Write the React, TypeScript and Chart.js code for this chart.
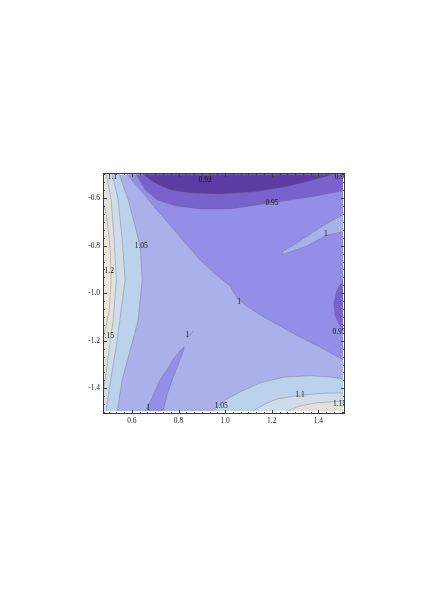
import React, { useEffect, useRef } from "react";
import { Chart, registerables } from "chart.js";

Chart.register(...registerables);

type P = [number, number];

// axis / domain
const X_RANGE: P = [0.476, 1.514];
const Y_RANGE: P = [-1.508, -0.494];
const DOMAIN_X: P = [0.48, 1.505];
const DOMAIN_Y: P = [-1.495, -0.5];
const X_TICKS = [0.6, 0.8, 1.0, 1.2, 1.4];
const Y_TICKS = [-1.4, -1.2, -1.0, -0.8, -0.6];

// contour lines (data coordinates)
const line090: P[] = [[0.648, -0.5], [0.7, -0.536], [0.764, -0.565], [0.85, -0.578], [0.978, -0.582], [1.128, -0.573], [1.257, -0.552], [1.364, -0.527], [1.463, -0.5]];
const line095Top: P[] = [[0.618, -0.5], [0.657, -0.565], [0.708, -0.607], [0.785, -0.632], [0.893, -0.645], [1.021, -0.645], [1.192, -0.62], [1.364, -0.595], [1.505, -0.569]];
const line095Right: P[] = [[1.505, -0.944], [1.48, -0.986], [1.466, -1.041], [1.471, -1.091], [1.488, -1.129], [1.505, -1.15]];
const line100Main: P[] = [[0.58, -0.5], [0.636, -0.565], [0.7, -0.641], [0.764, -0.713], [0.829, -0.789], [0.893, -0.86], [0.957, -0.919], [1.021, -0.969], [1.051, -1.02], [1.086, -1.049], [1.15, -1.091], [1.235, -1.138], [1.321, -1.184], [1.406, -1.226], [1.505, -1.28]];
const line100Spur: P[] = [[1.505, -0.742], [1.437, -0.755], [1.351, -0.801], [1.278, -0.826], [1.248, -0.835], [1.244, -0.826], [1.3, -0.793], [1.364, -0.751], [1.437, -0.705], [1.505, -0.67]];
const line100Sliver: P[] = [[0.657, -1.495], [0.687, -1.44], [0.721, -1.364], [0.756, -1.314], [0.781, -1.272], [0.807, -1.242], [0.824, -1.225], [0.82, -1.246], [0.803, -1.288], [0.773, -1.364], [0.751, -1.427], [0.734, -1.495]];
const line100Tick: P[] = [[0.843, -1.185], [0.862, -1.158]];
const line105Left: P[] = [[0.546, -0.5], [0.584, -0.607], [0.618, -0.733], [0.636, -0.809], [0.644, -0.944], [0.627, -1.112], [0.593, -1.238], [0.558, -1.364], [0.537, -1.495]];
const line110Left: P[] = [[0.516, -0.5], [0.541, -0.607], [0.558, -0.775], [0.571, -0.944], [0.554, -1.07], [0.537, -1.196], [0.516, -1.322], [0.499, -1.427], [0.49, -1.495]];
const line115Left: P[] = [[0.49, -0.5], [0.511, -0.607], [0.524, -0.775], [0.533, -0.944], [0.52, -1.112], [0.507, -1.196], [0.494, -1.301], [0.48, -1.398]];
const line120Left: P[] = [[0.48, -0.628], [0.494, -0.691], [0.507, -0.818], [0.511, -0.944], [0.503, -1.07], [0.49, -1.133], [0.48, -1.175]];
const line105BR: P[] = [[0.949, -1.495], [1.0, -1.449], [1.064, -1.415], [1.149, -1.377], [1.256, -1.352], [1.364, -1.347], [1.449, -1.352], [1.505, -1.36]];
const line110BR: P[] = [[1.12, -1.495], [1.171, -1.466], [1.222, -1.445], [1.329, -1.428], [1.428, -1.42], [1.505, -1.42]];
const line115BR: P[] = [[1.266, -1.495], [1.321, -1.474], [1.385, -1.462], [1.505, -1.453]];

// contour labels
const LABEL_TEXT = ["0.92", "0.9", "0.95", "1", "1.1", "1.05", "1.2", "1.15", "1", "1", "1.05", "1.1", "1.15", "0.95", "1"];
const LABEL_X = [0.914, 1.49, 1.201, 1.432, 0.516, 0.64, 0.503, 0.495, 0.838, 0.67, 0.983, 1.321, 1.491, 1.488, 1.06];
const LABEL_Y = [-0.523, -0.51, -0.62, -0.751, -0.51, -0.801, -0.906, -1.179, -1.176, -1.482, -1.474, -1.428, -1.466, -1.162, -1.036];

// band colours (low -> high)
const COL_A = "rgb(92,60,162)";
const COL_B = "rgb(122,98,204)";
const COL_C = "rgb(148,143,230)";
const COL_D = "rgb(170,177,234)";
const COL_E = "rgb(188,209,236)";
const COL_F = "rgb(208,221,232)";
const COL_G = "rgb(226,226,221)";
const COL_H = "rgb(236,232,220)";
const LINE_COL = "rgba(90,90,120,0.55)";

const FONT = "'Liberation Serif', 'Times New Roman', serif";

const [XL, XR] = DOMAIN_X;
const [YB, YT] = DOMAIN_Y;

const regions: { pts: P[]; color: string }[] = [
  { pts: [[XL, YT], [XR, YT], [XR, YB], [XL, YB]], color: COL_D },
  { pts: [...line100Main, [XR, YT]], color: COL_C },
  { pts: line100Spur, color: COL_D },
  { pts: [...line095Top, [XR, YT]], color: COL_B },
  { pts: line090, color: COL_A },
  { pts: line095Right, color: COL_B },
  { pts: line100Sliver, color: COL_C },
  { pts: [[XL, YT], ...line105Left, [XL, YB]], color: COL_E },
  { pts: [[XL, YT], ...line110Left, [XL, YB]], color: COL_F },
  { pts: [[XL, YT], ...line115Left], color: COL_G },
  { pts: line120Left, color: COL_H },
  { pts: [...line105BR, [XR, YB]], color: COL_E },
  { pts: [...line110BR, [XR, YB]], color: COL_F },
  { pts: [...line115BR, [XR, YB]], color: COL_G },
];

const contourLines: P[][] = [
  line090, line095Top, line095Right, line100Main, line100Spur, line100Sliver, line100Tick,
  line105Left, line110Left, line115Left, line120Left, line105BR, line110BR, line115BR,
];

const toPts = (arr: P[]) => arr.map(([x, y]) => ({ x, y }));

const framePlugin = {
  id: "mmaFrame",
  afterDraw(chart: any) {
    const { ctx, chartArea: a, scales } = chart;
    const xs = scales.x;
    const ys = scales.y;
    ctx.save();
    // contour labels
    ctx.save();
    ctx.beginPath();
    ctx.rect(a.left + 1, a.top + 1, a.right - a.left - 2, a.bottom - a.top - 2);
    ctx.clip();
    ctx.font = `7.5px ${FONT}`;
    ctx.fillStyle = "#111";
    ctx.textAlign = "center";
    ctx.textBaseline = "middle";
    LABEL_TEXT.forEach((t, i) => {
      ctx.fillText(t, xs.getPixelForValue(LABEL_X[i]), ys.getPixelForValue(LABEL_Y[i]));
    });
    ctx.restore();

    // frame
    ctx.strokeStyle = "#3c3c3c";
    ctx.lineWidth = 1;
    ctx.strokeRect(a.left + 0.5, a.top + 0.5, a.right - a.left - 1, a.bottom - a.top - 1);

    // inward ticks
    const step = 0.2 / 6;
    const drawTicks = (scale: any, horizontal: boolean) => {
      const lo = Math.ceil(scale.min / step - 1e-6);
      const hi = Math.floor(scale.max / step + 1e-6);
      for (let k = lo; k <= hi; k++) {
        const v = k * step;
        const r = v / 0.2;
        const major = Math.abs(r - Math.round(r)) < 1e-6;
        const len = major ? 4 : 2;
        const p = Math.round(scale.getPixelForValue(v)) + 0.5;
        ctx.beginPath();
        if (horizontal) {
          ctx.moveTo(p, a.bottom);
          ctx.lineTo(p, a.bottom - len);
          ctx.moveTo(p, a.top);
          ctx.lineTo(p, a.top + len);
        } else {
          ctx.moveTo(a.left, p);
          ctx.lineTo(a.left + len, p);
          ctx.moveTo(a.right, p);
          ctx.lineTo(a.right - len, p);
        }
        ctx.stroke();
      }
    };
    drawTicks(xs, true);
    drawTicks(ys, false);
    ctx.restore();
  },
};

export default function App() {
  const ref = useRef<HTMLCanvasElement | null>(null);

  useEffect(() => {
    if (!ref.current) return;
    const datasets: any[] = regions.map((r, i) => ({
      data: toPts(r.pts),
      showLine: true,
      fill: "shape",
      backgroundColor: r.color,
      borderColor: "rgba(0,0,0,0)",
      borderWidth: 0,
      pointRadius: 0,
      tension: 0,
      order: 1000 - i,
    }));
    contourLines.forEach((l) => {
      datasets.push({
        data: toPts(l),
        showLine: true,
        fill: false,
        borderColor: LINE_COL,
        borderWidth: 0.6,
        pointRadius: 0,
        tension: 0,
        order: 1,
      });
    });

    const chart = new Chart(ref.current, {
      type: "scatter",
      data: { datasets },
      options: {
        animation: false,
        responsive: false,
        events: [],
        layout: { padding: { left: 73, right: 91, top: 173, bottom: 177 } },
        plugins: { legend: { display: false }, tooltip: { enabled: false } },
        scales: {
          x: {
            type: "linear",
            min: X_RANGE[0],
            max: X_RANGE[1],
            position: "bottom",
            afterFit: (s: any) => { s.height = 25; },
            afterBuildTicks: (s: any) => { s.ticks = X_TICKS.map((v) => ({ value: v })); },
            grid: { display: false, drawTicks: false },
            border: { display: false },
            ticks: {
              font: { family: FONT, size: 7.5 },
              color: "#222",
              padding: 3,
              maxRotation: 0,
              autoSkip: false,
              callback: (v: any) => Number(v).toFixed(1),
            },
          },
          y: {
            type: "linear",
            min: Y_RANGE[0],
            max: Y_RANGE[1],
            position: "left",
            afterFit: (s: any) => { s.width = 30; },
            afterBuildTicks: (s: any) => { s.ticks = Y_TICKS.map((v) => ({ value: v })); },
            grid: { display: false, drawTicks: false },
            border: { display: false },
            ticks: {
              font: { family: FONT, size: 7.5 },
              color: "#222",
              padding: 3,
              autoSkip: false,
              callback: (v: any) => Number(v).toFixed(1),
            },
          },
        },
      },
      plugins: [framePlugin],
    });
    return () => chart.destroy();
  }, []);

  return (
    <div style={{ position: "absolute", left: 0, top: 0, width: 436, height: 616, background: "#fff" }}>
      <canvas ref={ref} width={436} height={616} style={{ display: "block" }} />
    </div>
  );
}
